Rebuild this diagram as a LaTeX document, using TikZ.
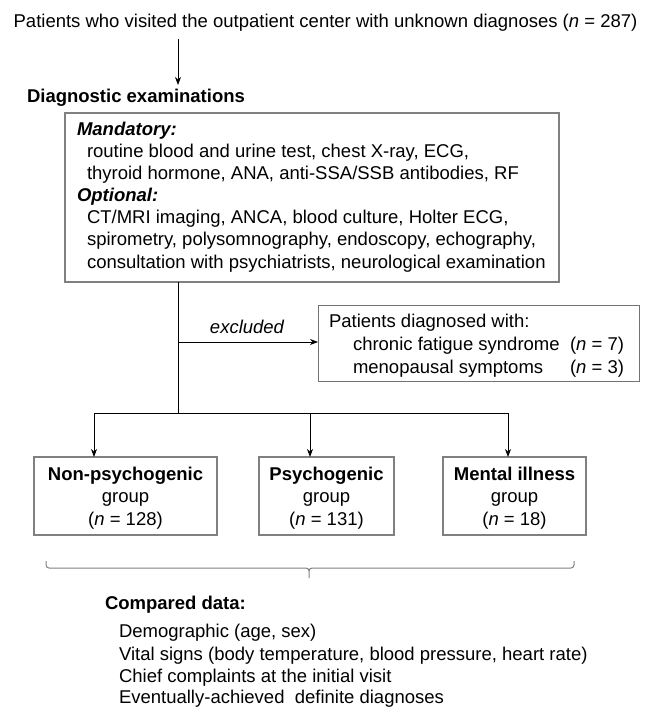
\documentclass[tikz,border=0pt]{standalone}
\usepackage{fontspec}
\setmainfont{Liberation Sans}
\usetikzlibrary{arrows.meta}
\begin{document}
\begin{tikzpicture}[x=1pt,y=-1pt,
  every node/.style={inner sep=0pt,outer sep=0pt},
  txt/.style={font=\fontsize{18.5}{22}\selectfont},
  lbl/.style={txt,anchor=base west},
  bold/.style={font=\fontsize{18.5}{22}\selectfont\bfseries},
  bolditalic/.style={font=\fontsize{18.5}{22}\selectfont\bfseries\itshape},
  gbox/.style={draw=black!50,line width=2.2pt},
  thinbox/.style={draw=black!55,line width=0.9pt},
  conn/.style={line width=0.9pt},
  arr/.style={conn,-{Stealth[length=8pt,width=6pt,inset=2.5pt]}}]
\useasboundingbox (0,0) rectangle (652,708);
% title
\node[txt,anchor=base] (title) at (325.5,28) {Patients who visited the outpatient center with unknown diagnoses (\textit{n} = 287)};
\coordinate (t1) at (178,39);
\coordinate (t2) at (178,85);
\draw[arr] (t1) -- (t2);
\node[lbl,bold] (diag) at (27,103) {Diagnostic examinations};
% examination box
\node[gbox,minimum width=494,minimum height=169,anchor=north west] (exam) at (65,113) {};
\node[lbl,bolditalic] (mand) at (77,136) {Mandatory:};
\node[lbl] (m1) at (87,158) {routine blood and urine test, chest X-ray, ECG,};
\node[lbl] (m2) at (87,180) {thyroid hormone, ANA, anti-SSA/SSB antibodies, RF};
\node[lbl,bolditalic] (opt) at (77,202) {Optional:};
\node[lbl] (o1) at (87,224) {CT/MRI imaging, ANCA, blood culture, Holter ECG,};
\node[lbl] (o2) at (87,246) {spirometry, polysomnography, endoscopy, echography,};
\node[lbl] (o3) at (87,268) {consultation with psychiatrists, neurological examination};
% excluded box
\node[thinbox,minimum width=321,minimum height=76,anchor=north west] (excl) at (318,305) {};
\node[lbl] (e0) at (329,327) {Patients diagnosed with:};
\node[lbl] (e1) at (353,350) {chronic fatigue syndrome};
\node[txt,anchor=base east] (e1n) at (624,350) {(\textit{n} = 7)};
\node[lbl] (e2) at (353,373) {menopausal symptoms};
\node[txt,anchor=base east] (e2n) at (624,373) {(\textit{n} = 3)};
% connectors
\coordinate (split) at (178,342);
\coordinate (fork) at (178,413);
\draw[conn] (exam.south -| fork) -- (fork);
\draw[arr] (split) -- (excl.west |- split);
\node[txt,anchor=base,font=\fontsize{18.5}{22}\selectfont\itshape] (exlbl) at (247,333) {excluded};
% group boxes
\node[gbox,minimum width=183,minimum height=78,anchor=north west] (g1) at (34,457) {};
\node[gbox,minimum width=135,minimum height=78,anchor=north west] (g2) at (259,457) {};
\node[gbox,minimum width=143,minimum height=78,anchor=north west] (g3) at (443,457) {};
\node[txt,anchor=base,bold] (g1a) at (125.5,480) {Non-psychogenic};
\node[txt,anchor=base] (g1b) at (125.5,502) {group};
\node[txt,anchor=base] (g1c) at (125.5,525) {(\textit{n} = 128)};
\node[txt,anchor=base,bold] (g2a) at (326.5,480) {Psychogenic};
\node[txt,anchor=base] (g2b) at (326.5,502) {group};
\node[txt,anchor=base] (g2c) at (326.5,525) {(\textit{n} = 131)};
\node[txt,anchor=base,bold] (g3a) at (514.5,480) {Mental illness};
\node[txt,anchor=base] (g3b) at (514.5,502) {group};
\node[txt,anchor=base] (g3c) at (514.5,525) {(\textit{n} = 18)};
\coordinate (h1) at (94,413);
\coordinate (h2) at (310,413);
\coordinate (h3) at (508,413);
\draw[conn] (h1) -- (h3);
\draw[arr] (h1) -- (h1 |- g1.north);
\draw[arr] (h2) -- (h2 |- g2.north);
\draw[arr] (h3) -- (h3 |- g3.north);
% brace
\coordinate (bl) at (46,561);
\coordinate (bm) at (309,578);
\coordinate (br) at (574,561);
\draw[black!50,line width=1pt]
  (bl) -- ++(0,4) to[out=-90,in=180] ++(3,3) -- (306,568) to[out=0,in=90] (309,571) -- (bm)
  (309,571) to[out=90,in=180] (312,568) -- (571,568) to[out=0,in=-90] (574,565) -- (br);
% compared data
\node[lbl,bold] (cmp) at (105,609) {Compared data:};
\node[lbl] (c1) at (119,637) {Demographic (age, sex)};
\node[lbl] (c2) at (119,660) {Vital signs (body temperature, blood pressure, heart rate)};
\node[lbl] (c3) at (119,682) {Chief complaints at the initial visit};
\node[lbl] (c4) at (119,703) {Eventually-achieved\ \ definite diagnoses};
\end{tikzpicture}
\end{document}
